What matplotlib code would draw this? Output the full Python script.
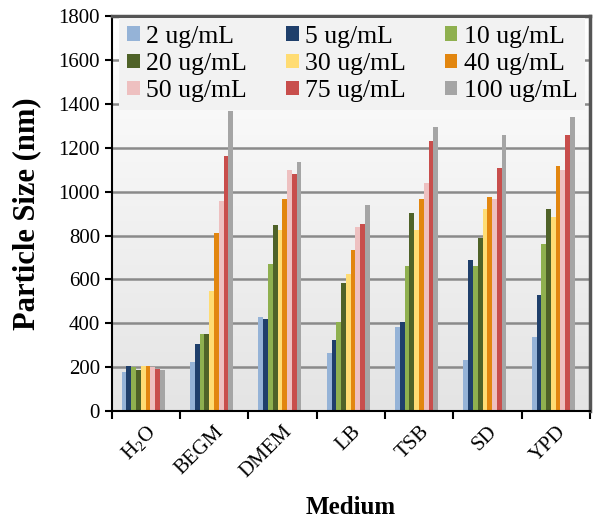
import numpy as np
import matplotlib
matplotlib.use('Agg')
import matplotlib.pyplot as plt
from matplotlib.colors import LinearSegmentedColormap
from matplotlib.patches import Patch

plt.rcParams['font.family'] = ['Liberation Serif', 'DejaVu Serif']
plt.rcParams['mathtext.fontset'] = 'custom'
plt.rcParams['mathtext.rm'] = 'Liberation Serif'

media = [r'H$_2$O', 'BEGM', 'DMEM', 'LB', 'TSB', 'SD', 'YPD']
concs = ['2 ug/mL', '5 ug/mL', '10 ug/mL', '20 ug/mL', '30 ug/mL',
         '40 ug/mL', '50 ug/mL', '75 ug/mL', '100 ug/mL']
colors = ['#95b3d7', '#1f3f6b', '#8fb04f', '#4f6228', '#ffdc73',
          '#e2860f', '#eec0c0', '#c84e4c', '#a5a5a5']

# particle size (nm), one list per concentration, ordered as media
size_2 = [179, 222, 430, 263, 384, 232, 339]
size_5 = [205, 304, 419, 324, 404, 688, 529]
size_10 = [202, 350, 670, 407, 661, 661, 760]
size_20 = [187, 350, 848, 582, 904, 787, 919]
size_30 = [206, 547, 825, 623, 825, 919, 883]
size_40 = [206, 813, 966, 734, 966, 974, 1118]
size_50 = [202, 957, 1098, 840, 1038, 966, 1098]
size_75 = [190, 1162, 1083, 851, 1230, 1109, 1257]
size_100 = [187, 1369, 1135, 939, 1296, 1257, 1340]
sizes = [size_2, size_5, size_10, size_20, size_30, size_40, size_50, size_75, size_100]

fig = plt.figure(figsize=(6.01, 5.23), dpi=100)
ax = fig.add_axes([0.186, 0.214, 0.796, 0.755])

x = np.arange(len(media))
w = 0.07
for j, vals in enumerate(sizes):
    ax.bar(x + (j - 4) * w - 0.04, vals, width=w, color=colors[j], zorder=2)

ax.set_xlim(-0.5, len(media) - 0.5)
ax.set_ylim(0, 1800)

# gradient background
cmap = LinearSegmentedColormap.from_list('bg', ['#e4e4e4', '#ffffff'])
ax.imshow(np.linspace(0, 1, 100)[:, None], extent=[-0.5, len(media) - 0.5, 0, 1800],
          aspect='auto', cmap=cmap, origin='lower', zorder=0)

ax.set_yticks(np.arange(0, 1801, 200))
ax.yaxis.grid(True, color='#8a8a8a', linewidth=1.8, zorder=1)
ax.set_axisbelow(True)

ax.set_xticks(x)
ax.set_xticklabels(media, rotation=45, ha='right', rotation_mode='anchor', fontsize=15)
ax.set_xticks(np.arange(-0.5, len(media)), minor=True)
ax.tick_params(axis='x', which='major', length=0, pad=8)
ax.tick_params(axis='x', which='minor', length=6, width=1.5, direction='out')
ax.tick_params(axis='y', length=5, width=1.5, direction='out', labelsize=15)

for s in ['left', 'bottom']:
    ax.spines[s].set_color('black')
    ax.spines[s].set_linewidth(1.5)
for s in ['top', 'right']:
    ax.spines[s].set_color('#555555')
    ax.spines[s].set_linewidth(2.5)

ax.set_ylabel('Particle Size (nm)', fontsize=22, fontweight='bold', labelpad=12)
ax.set_xlabel('Medium', fontsize=18, fontweight='bold', labelpad=10)

# legend filled row by row: 3 columns
order = [0, 3, 6, 1, 4, 7, 2, 5, 8]
handles = [Patch(facecolor=colors[i], label=concs[i]) for i in order]
leg = ax.legend(handles=handles, ncol=3, loc='upper left',
                bbox_to_anchor=(0.016, 0.995),
                fontsize=18.5, frameon=True, fancybox=False,
                handlelength=0.5, handleheight=0.5, handletextpad=0.25,
                labelspacing=0.2, borderpad=0.3, borderaxespad=0,
                columnspacing=1.5)
leg.get_frame().set_facecolor('#f2f2f2')
leg.get_frame().set_edgecolor('none')
leg.get_frame().set_alpha(1)

plt.savefig('out.png', dpi=100)
